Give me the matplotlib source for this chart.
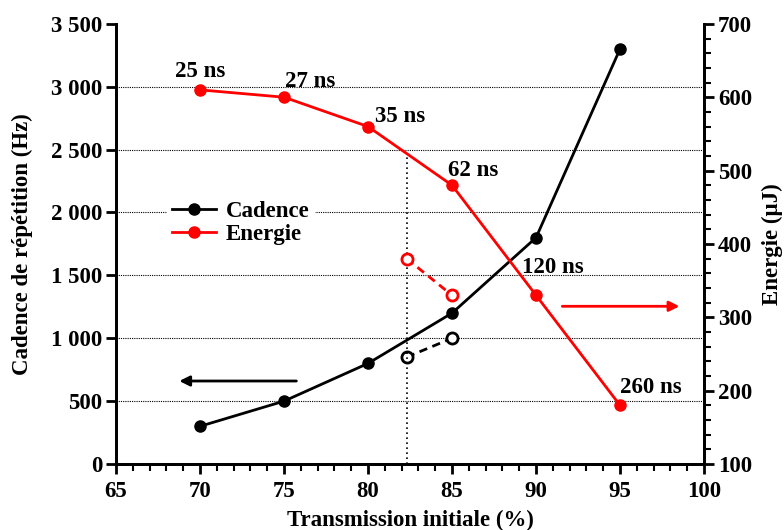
import matplotlib.pyplot as plt
from matplotlib.ticker import FuncFormatter, MultipleLocator

plt.rcParams['font.family'] = ['Liberation Serif', 'DejaVu Serif']
plt.rcParams['font.weight'] = 'bold'

transmission = [70, 75, 80, 85, 90, 95]
cadence = [300, 500, 800, 1200, 1800, 3300]
energie = [610, 600, 560, 480, 330, 180]
durees = ["25 ns", "27 ns", "35 ns", "62 ns", "120 ns", "260 ns"]

trans_ouvert = [82.3, 85]
cadence_ouvert = [850, 1000]
energie_ouvert = [380, 330]

FS = 16.5

fig = plt.figure(figsize=(7.84, 5.30), dpi=100)
ax1 = fig.add_axes([0.148, 0.1245, 0.75, 0.8305])
ax2 = ax1.twinx()

for y in range(500, 3001, 500):
    ax1.axhline(y, color='black', lw=0.8, ls=(0, (1, 1)), zorder=0)

# vertical dotted marker at 82.3 %
e_823 = energie[2] + (energie[3] - energie[2]) * (82.3 - 80) / 5
ax2.plot([82.3, 82.3], [100, e_823], color='black', lw=1.2, ls=(0, (1, 2)))

l1, = ax1.plot(transmission, cadence, color='black', lw=2, marker='o', ms=8, label='Cadence')
ax1.plot(trans_ouvert, cadence_ouvert, color='black', lw=2, ls=(0, (3, 2)),
         marker='o', ms=8, mfc='white', mew=2)
l2, = ax2.plot(transmission, energie, color='red', lw=2, marker='o', ms=8, label='Energie')
ax2.plot(trans_ouvert, energie_ouvert, color='red', lw=2, ls=(0, (3, 2)),
         marker='o', ms=8, mfc='white', mew=2)

offsets = [(0, 9), (1, 7), (5, 3), (-3, 7), (-10, 16), (0, 9)]
for i, (x, y, t) in enumerate(zip(transmission, energie, durees)):
    dx, dy = offsets[i]
    ax2.annotate(t, (x, y), xytext=(dx, dy), textcoords='offset points',
                 ha='center' if i == 0 else 'left', va='baseline',
                 fontsize=FS, fontweight='bold')

ax1.annotate('', xy=(68.6, 660), xytext=(75.9, 660),
             arrowprops=dict(arrowstyle='-|>', color='black', lw=2, mutation_scale=15))
ax2.annotate('', xy=(98.7, 315), xytext=(91.4, 315),
             arrowprops=dict(arrowstyle='-|>', color='red', lw=2, mutation_scale=15))

ax1.set_xlim(65, 100)
ax1.set_ylim(0, 3500)
ax2.set_ylim(100, 700)
ax1.xaxis.set_major_locator(MultipleLocator(5))
ax1.xaxis.set_minor_locator(MultipleLocator(1))
ax1.yaxis.set_major_locator(MultipleLocator(500))
ax2.yaxis.set_major_locator(MultipleLocator(100))
ax2.yaxis.set_minor_locator(MultipleLocator(20))
ax1.yaxis.set_major_formatter(FuncFormatter(lambda v, p: f"{int(v):,}".replace(',', ' ')))

for ax in (ax1, ax2):
    ax.spines['top'].set_visible(False)
    for s in ax.spines.values():
        s.set_linewidth(2)
    ax.tick_params(which='major', direction='out', length=7, width=2, labelsize=FS, pad=3)
    ax.tick_params(which='minor', direction='out', length=5, width=1.5)
ax1.tick_params(axis='x', pad=5)

ax1.set_xlabel('Transmission initiale (%)', fontsize=FS, fontweight='bold', labelpad=6)
ax1.set_ylabel('Cadence de répétition (Hz)', fontsize=FS, fontweight='bold', labelpad=13)
ax2.set_ylabel('Energie (µJ)', fontsize=FS, fontweight='bold', labelpad=7)

leg = ax2.legend([l1, l2], ['Cadence', 'Energie'], loc='upper left',
                 bbox_to_anchor=(0.068, 0.635), frameon=True, framealpha=1,
                 edgecolor='white', fancybox=False, fontsize=FS, handlelength=1.9,
                 handletextpad=0.45, borderpad=0.2, labelspacing=0.1)

fig.savefig('out.png', dpi=100)
